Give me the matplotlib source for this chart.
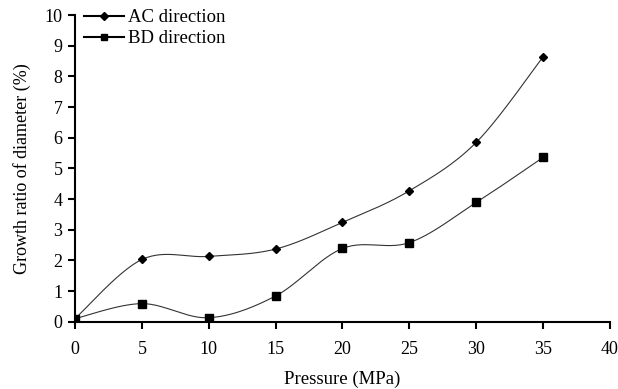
import matplotlib.pyplot as plt
import numpy as np
from matplotlib.lines import Line2D

# Growth ratio of diameter vs pressure, two directions
pressure = [0, 5, 10, 15, 20, 25, 30, 35]
ac_growth = [0.10, 2.03, 2.13, 2.37, 3.24, 4.27, 5.85, 8.64]
bd_growth = [0.10, 0.59, 0.13, 0.84, 2.39, 2.58, 3.89, 5.36]

plt.rcParams['font.family'] = ['Liberation Serif', 'DejaVu Serif']


# Excel-style smoothed line (cardinal bezier through the points)
def smooth(x, y, n=30):
    p = np.column_stack([x, y]).astype(float)
    ext = np.vstack([p[0], p, p[-1]])
    out = []
    t = np.linspace(0, 1, n)[:, None]
    for i in range(len(p) - 1):
        p0, p3 = ext[i + 1], ext[i + 2]
        c1 = p0 + (ext[i + 2] - ext[i]) / 6
        c2 = p3 - (ext[i + 3] - ext[i + 1]) / 6
        seg = ((1 - t) ** 3) * p0 + 3 * ((1 - t) ** 2) * t * c1 + 3 * (1 - t) * t ** 2 * c2 + t ** 3 * p3
        out.append(seg if i == 0 else seg[1:])
    out = np.vstack(out)
    return out[:, 0], out[:, 1]


fig = plt.figure(figsize=(6.18, 3.89), dpi=100)
ax = fig.add_axes([0.1214, 0.173, 0.8656, 0.788])

for ys, mk, ms in [(ac_growth, 'D', 4.5), (bd_growth, 's', 5.5)]:
    sx, sy = smooth(pressure, ys)
    ax.plot(sx, sy, color='#333333', lw=0.8)
    ax.plot(pressure, ys, ls='none', marker=mk, ms=ms, color='black')

ax.set_xlim(0, 40)
ax.set_ylim(0, 10)
ax.set_xticks(range(0, 41, 5))
ax.set_yticks(range(0, 11, 1))
for s in ['top', 'right']:
    ax.spines[s].set_visible(False)
for s in ['left', 'bottom']:
    ax.spines[s].set_linewidth(1.5)
ax.tick_params(direction='out', length=5, width=1.5, labelsize=13)
ax.tick_params(axis='x', pad=9)
ax.tick_params(axis='y', pad=4)

ax.set_xlabel('Pressure (MPa)', fontsize=13.5, labelpad=9)
ax.set_ylabel('Growth ratio of diameter (%)', fontsize=13, labelpad=10)

handles = [Line2D([], [], color='black', lw=1.5, marker='D', ms=4),
           Line2D([], [], color='black', lw=1.5, marker='s', ms=5)]
ax.legend(handles, ['AC direction', 'BD direction'], loc='upper left',
          frameon=False, fontsize=13.5, handlelength=2.1, handletextpad=0.2,
          borderaxespad=0.1, labelspacing=0.2, bbox_to_anchor=(0.0, 1.05))

fig.savefig('out.png', dpi=100)
